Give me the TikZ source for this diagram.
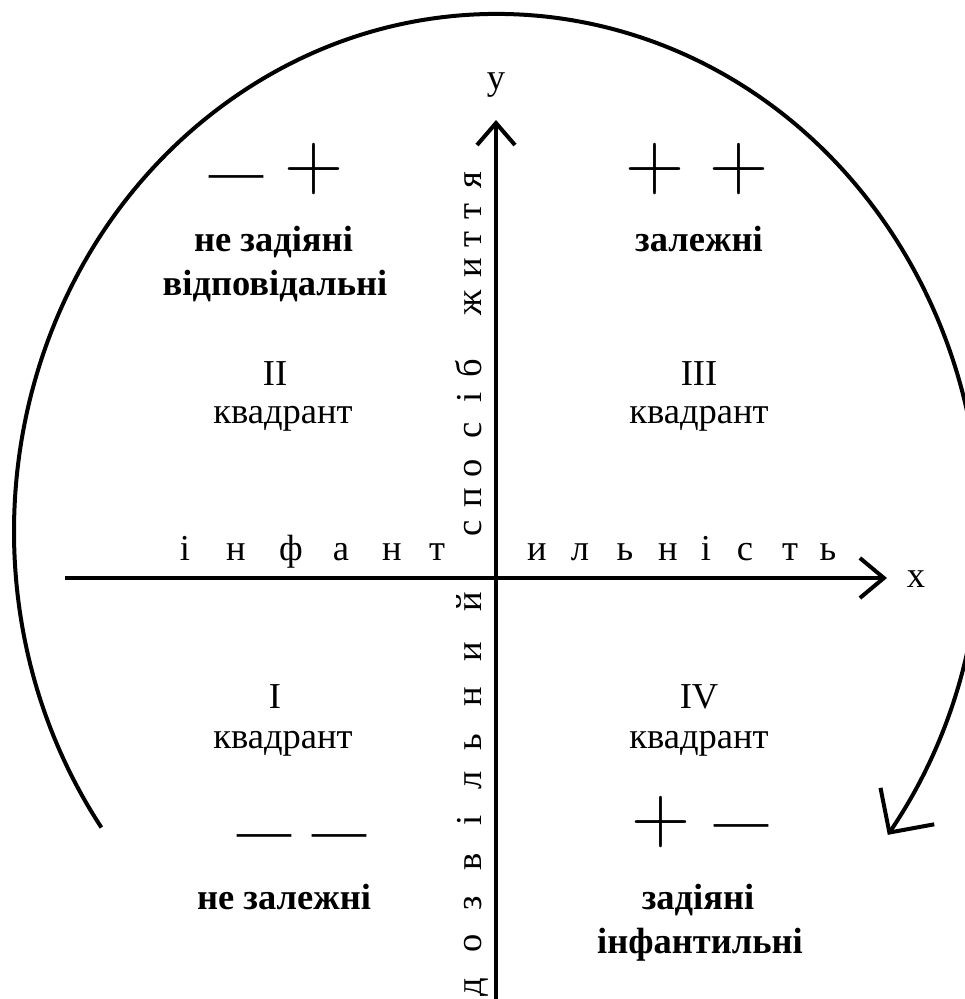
\documentclass[tikz,border=0pt]{standalone}
\usepackage{fontspec}
\setmainfont{Liberation Serif}
\newfontfamily\lmr{Latin Modern Roman}
\usetikzlibrary{arrows.meta}
\begin{document}
\begin{tikzpicture}[x=1pt,y=-1pt,
  every node/.style={inner sep=0pt, outer sep=0pt},
  reg/.style={font=\fontsize{36.5}{40}\selectfont, anchor=base},
  bld/.style={font=\fontsize{36.5}{40}\selectfont\bfseries, anchor=base},
  vlet/.style={font=\fontsize{36.5}{40}\selectfont, rotate=90, anchor=base},
  hlet/.style={font=\fontsize{36.5}{40}\selectfont, anchor=base},
  dsh/.style={font=\fontsize{54}{54}\selectfont, anchor=center},
  pls/.style={font=\lmr\fontsize{82}{82}\selectfont, anchor=center},
  ax/.style={line width=4pt},
]
\useasboundingbox (0,0) rectangle (965,999);

% axes
\coordinate (xS) at (65,578);
\coordinate (xE) at (887,578);
\coordinate (yS) at (496,1005);
\coordinate (yE) at (496,120);
\draw[ax, -{Straight Barb[length=24pt,width=40pt]}] (xS) -- (xE);
\draw[ax, -{Straight Barb[length=22pt,width=38pt]}] (yS) -- (yE);
\node[reg] (xl) at (916,587) {x};
\node[reg] (yl) at (496,89) {y};

% big arc
\coordinate (arcS) at (101.4,827.5);
\draw[ax, -{Straight Barb[length=32pt,width=65pt]}] (arcS)
  arc[start angle=145, end angle=396, x radius=483, y radius=517];

% signs
\node[dsh] (s1) at (236,183) {—};
\node[pls] (s2) at (314,169) {+};
\node[pls] (s3) at (655,169) {+};
\node[pls] (s4) at (739,169) {+};
\node[dsh] (s5) at (264,842) {—};
\node[dsh] (s6) at (339,842) {—};
\node[pls] (s7) at (661,822) {+};
\node[dsh] (s8) at (741,832) {—};

% bold labels
\node[bld] (tl1) at (273.5,251) {не задіяні};
\node[bld] (tl2) at (275,295) {відповідальні};
\node[bld] (tr1) at (699,251) {залежні};
\node[bld] (bl1) at (284,909) {не залежні};
\node[bld] (br1) at (698,909) {задіяні};
\node[bld] (br2) at (700,953) {інфантильні};

% quadrant labels
\node[reg] (q2a) at (275,385) {II};
\node[reg] (q2b) at (283,423) {квадрант};
\node[reg] (q3a) at (699,385) {III};
\node[reg] (q3b) at (699,423) {квадрант};
\node[reg] (q1a) at (275,708) {I};
\node[reg] (q1b) at (283,748) {квадрант};
\node[reg] (q4a) at (699,708) {IV};
\node[reg] (q4b) at (699,748) {квадрант};

% vertical spaced text
\foreach \l/\yy [count=\i] in {д/987, о/943, з/903, в/862, і/820, л/780, ь/742, н/697, и/652, й/602,
  с/528, п/498, о/468, с/430, і/397, б/368, ж/303, и/268, т/240, т/212, я/180}
  \node[vlet] (v\i) at (481,\yy) {\l};

% horizontal spaced text
\foreach \l/\xx [count=\i] in {і/185, н/236, ф/291, а/341, н/392, т/437,
  и/537, л/580, ь/625, н/668, і/706, с/745, т/790, ь/828}
  \node[hlet] (h\i) at (\xx,560) {\l};
\end{tikzpicture}
\end{document}
